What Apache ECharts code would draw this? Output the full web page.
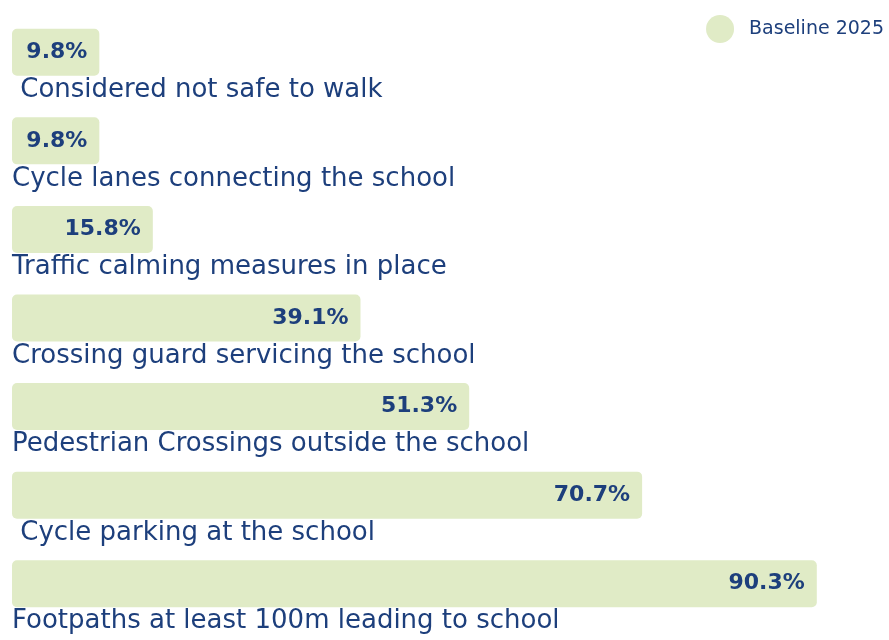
<!DOCTYPE html>
<html>
<head>
<meta charset="utf-8">
<script src="https://cdn.jsdelivr.net/npm/echarts@6/dist/echarts.min.js"></script>
<style>
  html, body { margin: 0; padding: 0; background: #fff; }
  #chart { width: 889px; height: 640px; }
</style>
</head>
<body>
<div id="chart"></div>
<script>
// categories top to bottom (leading spaces kept as in the source labels)
const categories = [
  ' Considered not safe to walk',
  'Cycle lanes connecting the school',
  'Traffic calming measures in place',
  'Crossing guard servicing the school',
  'Pedestrian Crossings outside the school',
  ' Cycle parking at the school',
  'Footpaths at least 100m leading to school'
]
const baseline2025 = [9.8, 9.8, 15.8, 39.1, 51.3, 70.7, 90.3]
const seriesName = 'Baseline 2025'

const navy = '#1d3f7c'
const barColor = '#e0ebc6'

const chart = echarts.init(document.getElementById('chart'))

const option = {
  animation: false,
  legend: {
    data: [seriesName],
    right: 0,
    top: 10,
    icon: 'circle',
    itemWidth: 28,
    itemHeight: 28,
    textStyle: {
      color: navy,
      fontSize: 19,
      fontFamily: 'DejaVu Sans',
      padding: [0, 0, 0, 10]
    }
  },
  grid: {
    left: 12,
    right: 0,
    top: 8,
    height: 620,
    containLabel: false
  },
  xAxis: {
    type: 'value',
    min: 0,
    max: 98.4, // axis runs off the right edge in the source
    show: false
  },
  yAxis: {
    type: 'category',
    inverse: true,
    data: categories,
    axisLine: { show: false },
    axisTick: { show: false },
    splitLine: { show: false },
    axisLabel: {
      inside: true,
      margin: 0,
      align: 'left',
      verticalAlign: 'top',
      padding: [25, 0, 0, 0],
      color: navy,
      fontSize: 26,
      fontFamily: 'DejaVu Sans'
    }
  },
  series: [
    {
      name: seriesName,
      type: 'bar',
      data: baseline2025,
      barWidth: 47,
      itemStyle: {
        color: barColor,
        borderRadius: 5
      },
      label: {
        show: true,
        position: 'insideRight',
        distance: 12,
        formatter: '{c}%',
        color: navy,
        fontSize: 22,
        fontWeight: 'bold',
        fontFamily: 'DejaVu Sans'
      }
    }
  ]
}

chart.setOption(option)
</script>
</body>
</html>
